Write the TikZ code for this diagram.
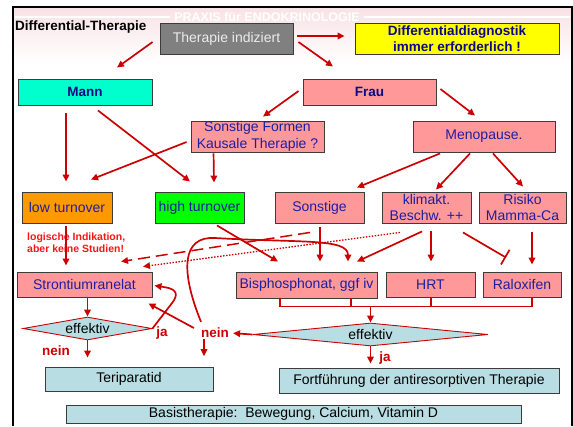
\documentclass[tikz,border=0pt]{standalone}
\usepackage{fontspec}
\setmainfont{Liberation Sans}
\usepackage{tikz}
\usetikzlibrary{arrows.meta,calc,shapes.geometric}
\definecolor{LineRed}{RGB}{204,0,0}
\definecolor{HintRed}{RGB}{250,20,20}
\definecolor{BoxPink}{RGB}{255,153,153}
\definecolor{BoxNavy}{RGB}{30,30,160}
\definecolor{DeepNavy}{RGB}{10,10,130}
\definecolor{BoxCyan}{RGB}{0,255,204}
\definecolor{BoxYellow}{RGB}{255,255,0}
\definecolor{BoxOrange}{RGB}{255,153,0}
\definecolor{BoxGreen}{RGB}{0,255,0}
\definecolor{BoxGray}{RGB}{128,128,128}
\definecolor{PaleBlue}{RGB}{184,221,226}
\definecolor{EdgeGray}{RGB}{60,60,60}
\definecolor{BandPink}{RGB}{248,226,229}
\tikzset{%
  box/.style={draw=EdgeGray, line width=0.9pt, inner sep=0pt, align=center,
    text=BoxNavy, font=\fontsize{14}{16.5}\selectfont},
  pinkbox/.style={box, fill=BoxPink},
  endbox/.style={box, fill=PaleBlue, text=black},
  check/.style={diamond, draw=LineRed, line width=0.9pt, fill=PaleBlue, inner sep=0pt,
    shape aspect=5.6, font=\fontsize{14}{16.5}\selectfont},
  redlab/.style={text=LineRed, inner sep=1pt, font=\bfseries\fontsize{13.5}{15}\selectfont},
  link/.style={draw=LineRed, line width=1.7pt},
  arr/.style={link, -{Triangle[length=7pt,width=6.5pt]}},
  stopper/.style={link, -{Bar[width=17pt]}}
}
\begin{document}
\begin{tikzpicture}[x=1pt,y=-1pt]
  \useasboundingbox (0,0) rectangle (573,426);
  \shade[top color=BandPink, bottom color=white] (13,8) rectangle (572,62);
  \draw[white, line width=1.2pt] (15,17) -- (170,17) (364,17) -- (570,17);
  \node[text=white, font=\bfseries\fontsize{12.5}{13}\selectfont] (mark) at (267,17) {PRAXIS für ENDOKRINOLOGIE};
  \draw[line width=2pt] (13,426) -- (13,7) -- (572,7) -- (572,426);

  \node[anchor=west, inner sep=0pt, font=\bfseries\fontsize{13.5}{15}\selectfont] (title) at (15,27) {Differential-Therapie};
  \node[box, fill=BoxGray, text=white!92!black, minimum width=133pt, minimum height=31pt] (ther) at (226.5,38.5) {Therapie indiziert};
  \node[box, fill=BoxYellow, text=DeepNavy, minimum width=204pt, minimum height=31pt,
    font=\bfseries\fontsize{13.5}{16}\selectfont] (diag) at (457,38.5) {Differentialdiagnostik\\immer erforderlich !};
  \node[box, fill=BoxCyan, text=DeepNavy, minimum width=134pt, minimum height=26pt,
    font=\bfseries\fontsize{13.5}{16}\selectfont] (mann) at (85,92) {Mann};
  \node[pinkbox, text=DeepNavy, minimum width=133pt, minimum height=26pt,
    font=\bfseries\fontsize{13.5}{16}\selectfont] (frau) at (369.5,92) {Frau};
  \node[pinkbox, minimum width=133pt, minimum height=31pt] (sform) at (257.5,136.5) {Sonstige Formen\\Kausale Therapie ?};
  \node[pinkbox, minimum width=142pt, minimum height=31pt] (meno) at (484,136.5) {Menopause.};

  \node[box, fill=BoxOrange, minimum width=90pt, minimum height=31pt] (low) at (67,207.5) {low turnover};
  \node[box, fill=BoxGreen, minimum width=89pt, minimum height=31pt] (high) at (199.5,207.5) {high turnover};
  \node[pinkbox, minimum width=89pt, minimum height=31pt] (sonst) at (319.5,207.5) {Sonstige};
  \node[pinkbox, minimum width=89pt, minimum height=31pt] (klim) at (426.5,207.5) {klimakt.\\Beschw. ++};
  \node[pinkbox, minimum width=87pt, minimum height=31pt] (risk) at (522.5,207.5) {Risiko\\Mamma-Ca};

  \node[anchor=west, align=left, inner sep=0pt, text=HintRed,
    font=\bfseries\fontsize{10.5}{12}\selectfont] (hint) at (27,243) {logische Indikation,\\aber keine Studien!};

  \node[pinkbox, minimum width=135pt, minimum height=25pt] (stron) at (84.5,284.5) {Strontiumranelat};
  \node[pinkbox, minimum width=141pt, minimum height=26pt] (bisph) at (306.5,285) {Bisphosphonat, ggf iv};
  \node[pinkbox, minimum width=89pt, minimum height=25pt] (hrt) at (430.5,284.5) {HRT};
  \node[pinkbox, minimum width=78pt, minimum height=25pt] (ralo) at (522,284.5) {Raloxifen};

  \node[check, minimum width=129pt, minimum height=23pt] (eff1) at (87.5,328.5) {effektiv};
  \node[check, minimum width=235pt, minimum height=23pt] (eff2) at (370.5,334.5) {effektiv};
  \node[redlab] (nein1) at (56,351) {nein};
  \node[redlab] (ja1) at (162,333) {ja};
  \node[redlab] (nein2) at (215,333) {nein};
  \node[redlab] (ja2) at (385,358) {ja};

  \node[endbox, minimum width=168pt, minimum height=24pt] (teri) at (129,379) {Teriparatid};
  \node[endbox, minimum width=280pt, minimum height=25pt] (fort) at (419,380.5) {Fortführung der antiresorptiven Therapie};
  \node[endbox, minimum width=455pt, minimum height=18pt] (basis) at (293.5,414) {Basistherapie:\ \ Bewegung, Calcium, Vitamin D};

  % upper tree
  \draw[arr] ($(ther.west)+(-7,3.5)$) -- ($(mann.north)+(32,-11)$);
  \draw[arr] ($(ther.east)+(4,-2.5)$) -- ($(diag.west)+(-10,-2.5)$);
  \draw[arr] ($(ther.east)+(5,3.5)$) -- ($(frau.north)+(-36.5,-12)$);
  \draw[arr] ($(frau.west)+(-4,-1)$) -- ($(sform.north)+(5.5,-4)$);
  \draw[arr] ($(frau.east)+(4,-3)$) -- ($(meno.north)+(-9,-5)$);
  \draw[arr] ($(mann.south)+(-19,8)$) -- ($(low.north)+(-1,-10)$);
  \draw[arr] ($(mann.south)+(13,5)$) -- ($(high.north)+(-9.5,-10)$);
  \draw[arr] ($(sform.west)+(-4,5.5)$) -- ($(low.north)+(24,-12)$);
  \draw[arr] ($(sform.south west)+(23,1)$) -- ($(high.north)+(14.5,-9)$);
  \draw[arr] ($(meno.south)+(-44,1)$) -- ($(sonst.north)+(37.5,-4)$);
  \draw[arr] ($(meno.south)+(-14,1)$) -- ($(klim.north)+(9.5,-2)$);
  \draw[arr] ($(meno.south)+(9,1)$) -- ($(risk.north)+(0.5,-5)$);

  % into the therapies
  \draw[arr] ($(low.south)+(-1,3)$) -- ($(stron.north)+(-18.5,-6)$);
  \draw[arr] ($(high.south)+(17.5,2)$) -- ($(bisph.north)+(-28.5,-10)$);
  \draw[arr] ($(sonst.south)+(0.5,4)$) -- ($(bisph.north)+(13.5,-10)$);
  \draw[arr] ($(klim.south)+(-4.5,8)$) -- ($(bisph.north)+(50.5,-10)$);
  \draw[arr] ($(klim.south)+(4.5,8)$) -- ($(hrt.north)+(0.5,-10)$);
  \draw[stopper] ($(klim.south)+(36.5,9)$) -- ($(ralo.north)+(-16,-14)$);
  \draw[arr] ($(risk.south)+(9.5,9)$) -- ($(ralo.north)+(10,-7)$);
  \draw[arr, line width=1.5pt, dash pattern=on 12pt off 6pt] ($(sonst.south)+(-9.5,9)$) -- ($(stron.north)+(36.5,-10)$);
  \draw[arr, line width=1.3pt, dash pattern=on 1.5pt off 1.5pt] ($(klim.south)+(-26.5,9)$) -- ($(stron.north)+(58.5,-5)$);

  % decisions
  \draw[arr] (stron.south -| eff1.north) -- (eff1.north);
  \draw[arr, shorten >=9pt] (eff1.south) -- (eff1.south |- teri.north);
  \draw[arr] (eff1.east) -- ($(eff1.east)+(20,-26)$) .. controls +(6,-8) and +(10,2) .. ($(stron.east)+(14,3)$) -- ($(stron.east)+(2,1)$);
  \draw[arr] ($(nein2.west)+(-6,-5)$) -- ($(stron.south east)+(-4,6)$);
  \draw[arr] ($(nein2.north)+(-14,-5)$) .. controls (180,270) and (182,236) .. (215,238)
    .. controls (300,243) and (348,238) .. ($(bisph.north)+(41.5,-10)$);
  \draw[arr, shorten >=3pt] (eff2.west) -- (nein2.east);
  \draw[arr] ($(nein2.south)+(-11,0)$) -- ($(nein2.south)+(-11,17)$);

  \coordinate (join) at ($(eff2.north)+(0,-17)$);
  \draw[link] ($(bisph.south)+(-26.5,0)$) |- ($(ralo.south)+(10,9)$) -- ($(ralo.south)+(10,0)$);
  \foreach \dx/\nd in {44.5/bisph, 0.5/hrt}
    \draw[link] ($(\nd.south)+(\dx,0)$) -- ($(\nd.south)+(\dx,8.5)$);
  \draw[arr] (join) -- (eff2.north);
  \draw[arr, shorten >=4pt] (eff2.south) -- (eff2.south |- fort.north);
\end{tikzpicture}
\end{document}
